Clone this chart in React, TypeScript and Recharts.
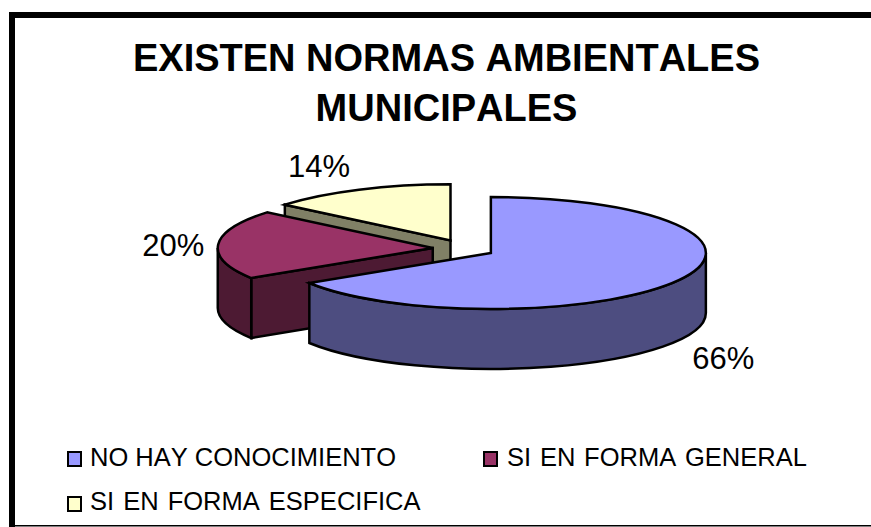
import { Legend, Pie, PieChart } from 'recharts'

const categories = ['SI EN FORMA ESPECIFICA', 'SI EN FORMA GENERAL', 'NO HAY CONOCIMIENTO']
const shares = [14, 20, 66]
const topColors = ['#FFFFCC', '#993366', '#9999FF']
const wallColors = ['#808066', '#4D1A33', '#4D4D80']
const titleLines = ['EXISTEN NORMAS AMBIENTALES', 'MUNICIPALES']

// painted back to front, so the table runs yellow -> blue and the angles run counter-clockwise from 12 o'clock
const rows = categories.map((name, i) => ({ name, value: shares[i], fill: topColors[i] }))

const WIDTH = 871
const HEIGHT = 527
const RX = 215
const RY = 56
const DEPTH = 60
const EXPLODE_X = 31
const EXPLODE_Y = 9.1
const FONT = '"Liberation Sans", Arial, sans-serif'
const RAD = Math.PI / 180

// where each percent label sits relative to the rim point at the slice's mid angle
const labelNudge = [
  { dx: -40, dy: -13 },
  { dx: -45, dy: 11 },
  { dx: 44, dy: 89 },
]

const legendSlots = [
  { left: 68, top: 452, textLeft: 90, baseline: 465.5, wordGap: 0 },
  { left: 484, top: 452, textLeft: 507, baseline: 465.5, wordGap: 1.7 },
  { left: 68, top: 497, textLeft: 90, baseline: 510, wordGap: 2 },
]

function apexOf(cx: number, cy: number, mid: number) {
  return {
    x: cx + EXPLODE_X * Math.cos(mid * RAD),
    y: cy - EXPLODE_Y * Math.sin(mid * RAD),
  }
}

function rim(ax: number, ay: number, angle: number) {
  return { x: ax + RX * Math.cos(angle * RAD), y: ay - RY * Math.sin(angle * RAD) }
}

/** Pie sector squashed to an ellipse, pulled off-centre and given a side wall. */
function Slice3D(props: any) {
  const { cx, cy, startAngle, endAngle, fill, index } = props
  const mid = (startAngle + endAngle) / 2
  const a = apexOf(cx, cy, mid)
  const p0 = rim(a.x, a.y, startAngle)
  const p1 = rim(a.x, a.y, endAngle)
  const large = endAngle - startAngle > 180 ? 1 : 0
  const top = `M${a.x},${a.y} L${p0.x},${p0.y} A${RX},${RY} 0 ${large} 0 ${p1.x},${p1.y} Z`

  // only the lower half of the rim faces the viewer
  const wallFrom = Math.max(startAngle, 180)
  const wallTo = Math.min(endAngle, 360)
  let curved = ''
  if (wallTo > wallFrom) {
    const w0 = rim(a.x, a.y, wallFrom)
    const w1 = rim(a.x, a.y, wallTo)
    curved =
      `M${w0.x},${w0.y} A${RX},${RY} 0 0 0 ${w1.x},${w1.y} ` +
      `L${w1.x},${w1.y + DEPTH} A${RX},${RY} 0 0 1 ${w0.x},${w0.y + DEPTH} Z`
  }
  // the cut edge at endAngle shows only when the slice lies above it
  const showCut = endAngle > 90 && endAngle < 270
  const cut = showCut
    ? `M${a.x},${a.y} L${p1.x},${p1.y} L${p1.x},${p1.y + DEPTH} L${a.x},${a.y + DEPTH} Z`
    : ''
  const wall = wallColors[index]
  return (
    <g stroke="#000" strokeWidth={2.5} strokeLinejoin="miter">
      {cut && <path d={cut} fill={wall} />}
      {curved && <path d={curved} fill={wall} />}
      <path d={top} fill={fill} />
    </g>
  )
}

function PercentLabel(props: any) {
  const { cx, cy, midAngle, value, index } = props
  const a = apexOf(cx, cy, midAngle)
  const p = rim(a.x, a.y, midAngle)
  return (
    <text
      x={p.x + labelNudge[index].dx}
      y={p.y + labelNudge[index].dy}
      textAnchor="middle"
      fontFamily={FONT}
      fontSize={31}
      fill="#000"
    >
      {value}%
    </text>
  )
}

function LegendBlock({ payload }: any) {
  const items = [...(payload ?? [])].reverse()
  return (
    <svg width={WIDTH} height={HEIGHT} style={{ display: 'block' }}>
      {items.map((item: any, i: number) => {
        const slot = legendSlots[i]
        return (
          <g key={item.value}>
            <rect x={slot.left} y={slot.top} width={13} height={14} fill={item.color} stroke="#000" strokeWidth={2} />
            <text
              x={slot.textLeft}
              y={slot.baseline}
              fontFamily={FONT}
              fontSize={25.5}
              fill="#000"
              style={{ fontKerning: 'none', wordSpacing: slot.wordGap }}
            >
              {item.value}
            </text>
          </g>
        )
      })}
    </svg>
  )
}

export default function App() {
  return (
    <div style={{ position: 'absolute', left: 0, top: 0, width: WIDTH, height: HEIGHT, background: '#fff' }}>
      <PieChart width={WIDTH} height={HEIGHT} margin={{ top: 0, right: 0, bottom: 0, left: 0 }}>
        <rect x={9} y={12} width={862} height={6} fill="#000" />
        <rect x={9} y={12} width={6} height={515} fill="#000" />
        <rect x={9} y={525} width={862} height={1.5} fill="#000" />
        {titleLines.map((line, i) => (
          <text
            key={line}
            x={446.5}
            y={71 + i * 50}
            textAnchor="middle"
            fontFamily={FONT}
            fontWeight="bold"
            fontSize={38}
            fill="#000"
            style={{ fontKerning: 'none' }}
          >
            {line}
          </text>
        ))}
        <Pie
          data={rows}
          dataKey="value"
          nameKey="name"
          cx={463.7}
          cy={248.6}
          outerRadius={RX}
          startAngle={90}
          endAngle={450}
          stroke="none"
          shape={Slice3D}
          label={PercentLabel}
          labelLine={false}
          isAnimationActive={false}
        />
        <Legend
          content={LegendBlock}
          itemSorter={null}
          wrapperStyle={{ left: 0, top: 0, bottom: 'auto', width: WIDTH, height: HEIGHT, pointerEvents: 'none' }}
        />
      </PieChart>
    </div>
  )
}
